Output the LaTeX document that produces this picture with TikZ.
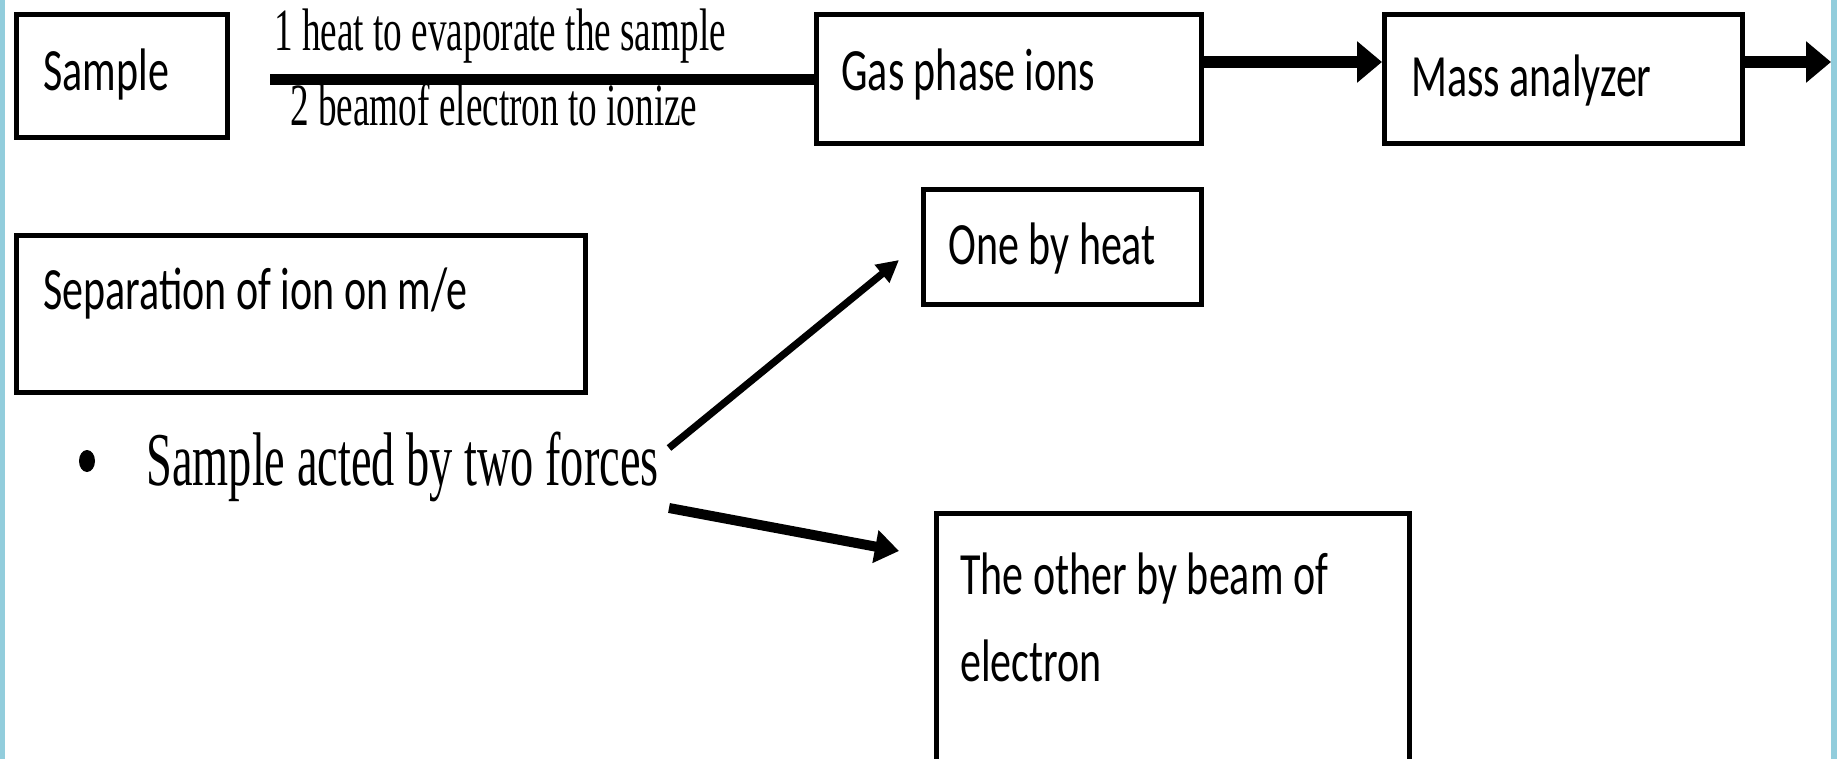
\documentclass[tikz,border=0pt]{standalone}
\usepackage{fontspec}
\usepackage{graphicx}
\usetikzlibrary{arrows.meta,shapes.geometric,calc}
\newfontfamily\carlito{Carlito}
\newfontfamily\tnr{Liberation Serif}
\definecolor{sidebar}{HTML}{92CDDC}
% narrow, tall lettering used throughout the chart
\newcommand\boxlabel[1]{\scalebox{0.70}[1]{\carlito\fontsize{30}{36}\selectfont #1}}
\newcommand\steplabel[1]{\scalebox{0.62}[1]{\tnr\fontsize{30}{36}\selectfont #1}}
\newcommand\bulletlabel[1]{\scalebox{0.61}[1]{\tnr\fontsize{38}{46}\selectfont #1}}
\begin{document}
\begin{tikzpicture}[x=0.5pt,y=-0.5pt,
  frame/.style={draw, line width=2.3pt, anchor=north west, inner sep=0pt},
  txt/.style={anchor=base west, inner sep=0pt},
  heavy/.style={line width=6pt, -{Triangle[length=12.5pt,width=20pt]}},
  slimarrow/.style={line width=3.6pt, -{Triangle[length=11pt,width=11pt]}},
  midarrow/.style={line width=5pt, -{Triangle[length=12pt,width=16pt]}}]
\useasboundingbox (0,0) rectangle (1837,759);
\clip (0,0) rectangle (1837,759);
\fill[white] (0,0) rectangle (1837,759);
\fill[sidebar] (0,0) rectangle (4.5,759);
\fill[sidebar] (1831,0) rectangle (1837,759);

% top row: sample -> gas phase ions -> mass analyzer
\node[frame, minimum width=105.5pt, minimum height=61.5pt] (sample) at (14,12) {};
\node[txt] (sampletxt) at (43,91) {\boxlabel{Sample}};
\node[frame, minimum width=192.5pt, minimum height=64.5pt] (gas) at (814,12) {};
\node[txt] (gastxt) at (841,91) {\boxlabel{Gas phase ions}};
\node[frame, minimum width=179pt, minimum height=64.5pt] (mass) at (1382,12) {};
\node[txt] (masstxt) at (1411,97) {\boxlabel{Mass analyzer}};

\node[txt] (step1) at (274,51) {\steplabel{1 heat to evaporate the sample}};
\node[txt] (step2) at (290,126) {\steplabel{2 beamof electron to ionize}};

\coordinate (linestart) at (270,79.5);
\draw[line width=5.5pt] (linestart) -- (gas.west |- linestart);

\coordinate (arrowrow) at (0,62);
\coordinate (outlet) at (1831,62);
\draw[heavy] (gas.east |- arrowrow) -- (mass.west |- arrowrow);
\draw[heavy] (mass.east |- arrowrow) -- (outlet);

% lower part: separation and the two forces
\node[frame, minimum width=284.5pt, minimum height=78.5pt] (sep) at (14,233) {};
\node[txt] (septxt) at (43,310) {\boxlabel{Separation of ion on m/e}};

\node[ellipse, fill, minimum width=8pt, minimum height=11pt, inner sep=0pt] (dot) at (87,461) {};
\node[txt] (forces) at (146,485) {\bulletlabel{Sample acted by two forces}};

\node[frame, minimum width=139pt, minimum height=57.5pt] (heat) at (921,187) {};
\node[txt] (heattxt) at (948,265) {\boxlabel{One by heat}};
\node[frame, minimum width=236.5pt, minimum height=150pt] (beam) at (934,511) {};
\node[txt] (beamtxt1) at (960,594) {\boxlabel{The other by beam of}};
\node[txt] (beamtxt2) at (960,681) {\boxlabel{electron}};

\coordinate (upfrom) at (669,448);
\coordinate (upto) at (899,260);
\coordinate (downfrom) at (669,508);
\coordinate (downto) at (899,551);
\draw[slimarrow] (upfrom) -- (upto);
\draw[midarrow] (downfrom) -- (downto);
\end{tikzpicture}
\end{document}
